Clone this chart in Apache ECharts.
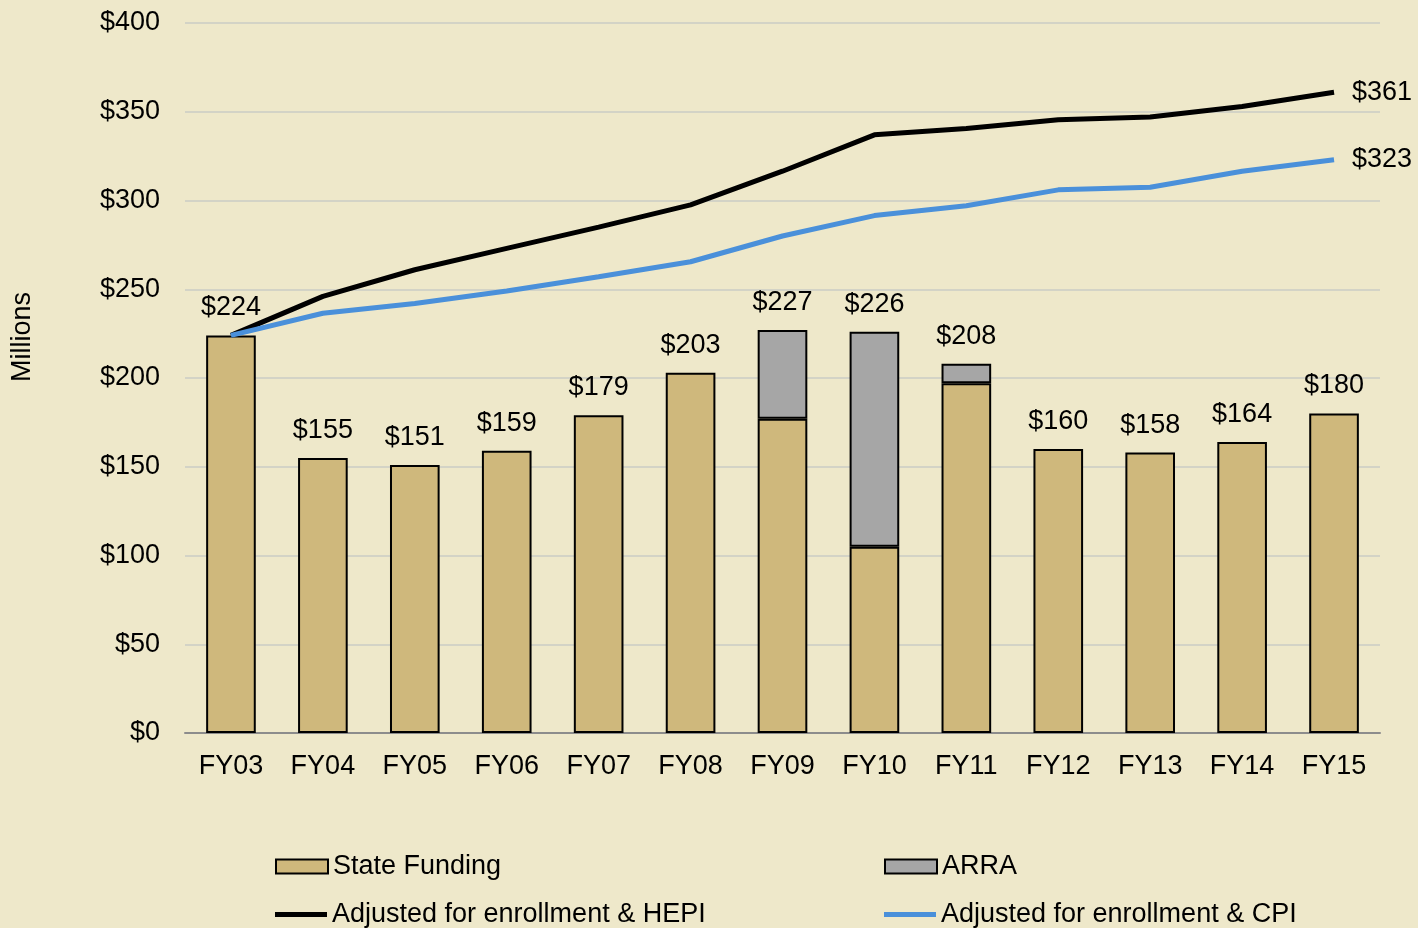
<!DOCTYPE html>
<html>
<head>
<meta charset="utf-8">
<script src="https://cdn.jsdelivr.net/npm/echarts@6/dist/echarts.min.js"></script>
<style>
html,body{margin:0;padding:0;background:#EEE8CA;}
#c{width:1418px;height:928px;}
</style>
</head>
<body>
<div id="c"></div>
<script>
const categories = ['FY03','FY04','FY05','FY06','FY07','FY08','FY09','FY10','FY11','FY12','FY13','FY14','FY15'];
const stateFunding = [224,155,151,159,179,203,177,105,197,160,158,164,180];
const arra = [0,0,0,0,0,0,50,121,11,0,0,0,0];
const hepi = [224,246,261,273,285,297.5,316.5,337,340.5,345.5,347,353,361];
const cpi = [224,236.5,242,249,257,265.5,280,291.5,297,306,307.5,316.5,323];
const yTicks = [0,50,100,150,200,250,300,350,400];

const FONT = '"Liberation Sans", Arial, sans-serif';
const FS = 27;
const chart = echarts.init(document.getElementById('c'));
const total = i => stateFunding[i] + arra[i];

function legendItem(name, left, top, icon, h) {
  return {
    orient: 'horizontal', left: left, top: top, itemWidth: 52, itemHeight: h, itemGap: 10,
    icon: icon, textStyle: { fontSize: FS, fontFamily: FONT, color: '#000' },
    data: [{ name: name }]
  };
}

const labelBase = { show: true, position: 'top', distance: 14, fontSize: FS, color: '#000', fontFamily: FONT };

chart.setOption({
  backgroundColor: '#EEE8CA',
  animation: false,
  textStyle: { fontFamily: FONT, color: '#000' },
  grid: { left: 185, right: 38, top: 23, bottom: 195, containLabel: false },
  graphic: [{
    type: 'text', x: 23, y: 337, rotation: Math.PI / 2,
    style: { text: 'Millions', font: FS + 'px ' + FONT, fill: '#000', textAlign: 'center', textVerticalAlign: 'middle' }
  }],
  legend: [
    legendItem('State Funding', 270, 848, 'rect', 14),
    legendItem('ARRA', 879, 848, 'rect', 14),
    legendItem('Adjusted for enrollment & HEPI', 270, 896, 'rect', 5),
    legendItem('Adjusted for enrollment & CPI', 879, 896, 'rect', 5)
  ],
  xAxis: {
    type: 'category', data: categories,
    axisTick: { show: false },
    axisLine: { lineStyle: { color: '#8C8C8C', width: 2 } },
    axisLabel: { fontSize: FS, color: '#000', fontFamily: FONT, margin: 20 }
  },
  yAxis: {
    type: 'value', min: yTicks[0], max: yTicks[yTicks.length - 1], interval: 50,
    axisLine: { show: false }, axisTick: { show: false },
    splitLine: { lineStyle: { color: '#D3D3C6', width: 2 } },
    axisLabel: { fontSize: FS, color: '#000', fontFamily: FONT, margin: 25, formatter: v => '$' + v }
  },
  series: [
    {
      name: 'State Funding', type: 'bar', stack: 'f', data: stateFunding, barWidth: '54%',
      itemStyle: { color: '#CFB87C', borderColor: '#000', borderWidth: 2 },
      label: Object.assign({}, labelBase, { formatter: p => arra[p.dataIndex] > 0 ? '' : '$' + total(p.dataIndex) })
    },
    {
      name: 'ARRA', type: 'bar', stack: 'f', data: arra.map(v => v > 0 ? v : '-'), barWidth: '54%',
      itemStyle: { color: '#A6A6A6', borderColor: '#000', borderWidth: 2 },
      label: Object.assign({}, labelBase, { formatter: p => '$' + total(p.dataIndex) })
    },
    {
      name: 'Adjusted for enrollment & HEPI', type: 'line', data: hepi, symbol: 'none',
      lineStyle: { color: '#000', width: 5 }, itemStyle: { color: '#000' },
      endLabel: { show: true, formatter: p => '$' + Math.round(p.value), fontSize: FS, color: '#000', fontFamily: FONT, distance: 18 }
    },
    {
      name: 'Adjusted for enrollment & CPI', type: 'line', data: cpi, symbol: 'none',
      lineStyle: { color: '#4A90DA', width: 5 }, itemStyle: { color: '#4A90DA' },
      endLabel: { show: true, formatter: p => '$' + Math.round(p.value), fontSize: FS, color: '#000', fontFamily: FONT, distance: 18 }
    }
  ]
});
</script>
</body>
</html>
